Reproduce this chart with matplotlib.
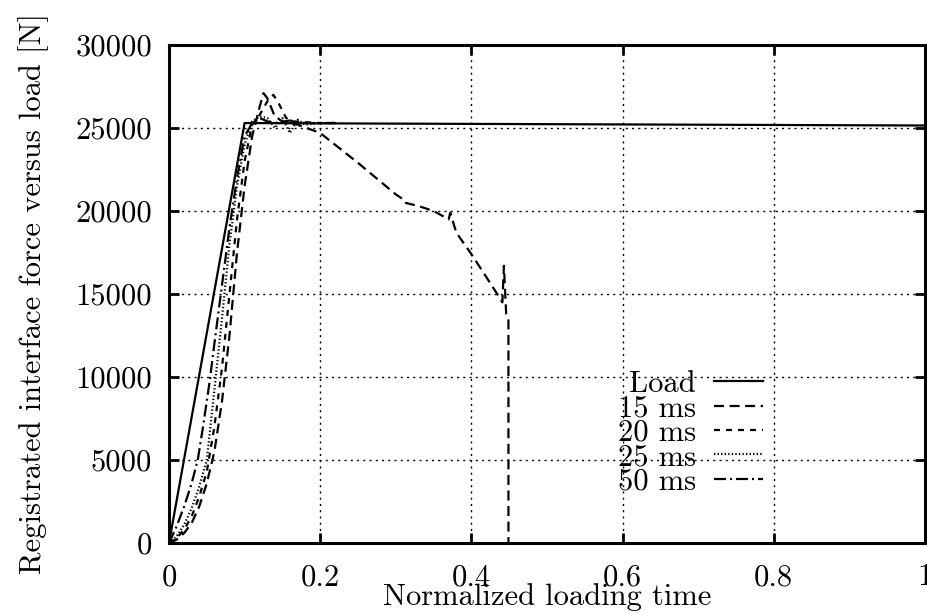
import matplotlib
matplotlib.use("Agg")
import matplotlib.pyplot as plt

# data
load_x = [0, 0.1, 0.2, 1.0]
load_y = [0, 25300, 25280, 25150]

ms15_x = [0, 0.01, 0.02, 0.03, 0.04, 0.05, 0.06, 0.07, 0.08, 0.09, 0.10, 0.11, 0.12, 0.125,
          0.13, 0.14, 0.15, 0.17, 0.2, 0.25, 0.3, 0.31, 0.312, 0.33, 0.35, 0.37, 0.372, 0.38,
          0.4, 0.42, 0.437, 0.441, 0.443, 0.446, 0.449, 0.449]
ms15_y = [0, 200, 600, 1200, 2200, 3600, 5500, 8500, 12500, 17500, 21500, 24500, 26300, 27100,
          26800, 25700, 25400, 25200, 24700, 22900, 21000, 20700, 20500, 20300, 20000, 19500, 19900, 18700,
          17400, 16000, 14800, 14500, 16700, 13800, 13500, 0]

ms20_x = [0, 0.01, 0.02, 0.03, 0.04, 0.05, 0.06, 0.07, 0.08, 0.09, 0.10, 0.11, 0.12, 0.13,
          0.138, 0.145, 0.155, 0.165, 0.18, 0.2, 0.22]
ms20_y = [0, 300, 800, 1600, 2800, 4300, 7000, 10500, 15000, 19500, 23000, 25200, 25800, 26600,
          27000, 26500, 25600, 25400, 25350, 25300, 25300]

ms25_x = [0, 0.01, 0.02, 0.03, 0.04, 0.05, 0.06, 0.07, 0.08, 0.09, 0.10, 0.11, 0.12, 0.13,
          0.14, 0.15, 0.16, 0.17, 0.18, 0.2, 0.22]
ms25_y = [0, 400, 1100, 2100, 3400, 5000, 9200, 13500, 18000, 21500, 24000, 25400, 25700, 25600,
          25000, 25600, 24700, 25500, 25200, 25300, 25300]

ms50_x = [0, 0.005, 0.01, 0.02, 0.03, 0.038, 0.045, 0.054, 0.06, 0.07, 0.08, 0.09, 0.1, 0.11,
          0.12, 0.13, 0.14, 0.16, 0.18, 0.2, 0.22]
ms50_y = [0, 500, 1000, 2200, 3600, 5000, 7000, 9800, 12000, 15500, 19000, 22000, 24500, 25300,
          25600, 25400, 25300, 25450, 25300, 25300, 25300]

xticks = [0, 0.2, 0.4, 0.6, 0.8, 1.0]
xticklabels = ["0", "0.2", "0.4", "0.6", "0.8", "1"]
yticks = [0, 5000, 10000, 15000, 20000, 25000, 30000]

plt.rcParams['font.family'] = ['cmr10', 'DejaVu Serif']
plt.rcParams['font.size'] = 22

fig = plt.figure(figsize=(9.28, 6.14), dpi=100)
ax = fig.add_axes([169/928, 71/614, 756/928, 498/614])

lw = 1.6
ax.plot(load_x, load_y, color='black', lw=lw, label='Load')
ax.plot(ms15_x, ms15_y, color='black', lw=lw, linestyle=(0, (4.5, 2.5)), label='15 ms')
ax.plot(ms20_x, ms20_y, color='black', lw=lw, linestyle=(0, (2.7, 2.7)), label='20 ms')
ax.plot(ms25_x, ms25_y, color='black', lw=lw, linestyle=(0, (0.6, 1.0)), label='25 ms')
ax.plot(ms50_x, ms50_y, color='black', lw=lw, linestyle=(0, (5.4, 1.8, 0.9, 1.8)), label='50 ms')

ax.set_xlim(0, 1)
ax.set_ylim(0, 30000)
ax.set_xticks(xticks)
ax.set_xticklabels(xticklabels)
ax.set_yticks(yticks)
ax.set_yticklabels([str(v) for v in yticks])

ax.grid(True, color='black', linestyle=(0, (1.5, 3)), linewidth=1)
for s in ax.spines.values():
    s.set_linewidth(2.2)
ax.tick_params(direction='in', length=7, width=2, top=True, right=True)
ax.tick_params(axis='x', pad=15)
ax.tick_params(axis='y', pad=12)

ax.set_xlabel("Normalized loading time", labelpad=-6)
ax.set_ylabel("Registrated interface force versus load [N]", labelpad=19)

ax.legend(loc='upper right', bbox_to_anchor=(0.806, 0.377), frameon=False, markerfirst=False,
          handlelength=1.6, handletextpad=0.6, labelspacing=-0.1, borderpad=0)

fig.savefig("out.png", dpi=100)
